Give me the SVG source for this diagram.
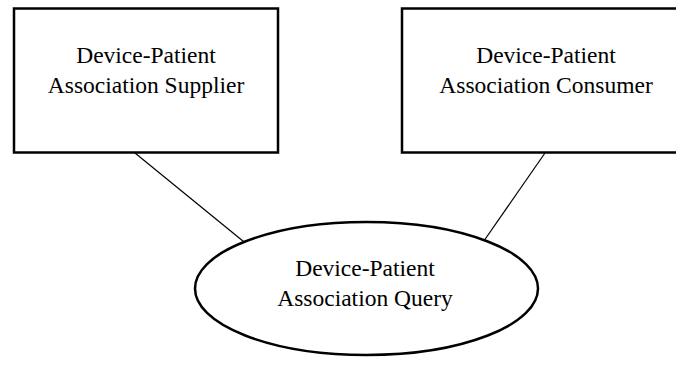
<svg xmlns="http://www.w3.org/2000/svg" width="676" height="366" viewBox="0 0 676 366">
<style>
.shape{fill:#fff;stroke:#000;stroke-width:2.5}
.conn{stroke:#000;stroke-width:1.2;fill:none}
text{font-family:"Liberation Serif","Times New Roman",serif;font-size:23.5px;fill:#000;text-anchor:middle}
</style>
<rect width="676" height="366" fill="#fff"/>
<g id="connectors">
<line class="conn" x1="135" y1="153" x2="243.5" y2="241.5"/>
<line class="conn" x1="545" y1="153" x2="483.5" y2="241.5"/>
</g>
<g id="supplier">
<rect class="shape" x="14" y="8.5" width="264" height="144"/>
<text x="146" y="63">Device-Patient</text>
<text x="146" y="93">Association Supplier</text>
</g>
<g id="consumer">
<rect class="shape" x="402" y="8.5" width="288" height="144"/>
<text x="546" y="63">Device-Patient</text>
<text x="546" y="93">Association Consumer</text>
</g>
<g id="query">
<ellipse class="shape" cx="366.5" cy="288.5" rx="171.5" ry="66.5"/>
<text x="365" y="276">Device-Patient</text>
<text x="365" y="306">Association Query</text>
</g>
</svg>
